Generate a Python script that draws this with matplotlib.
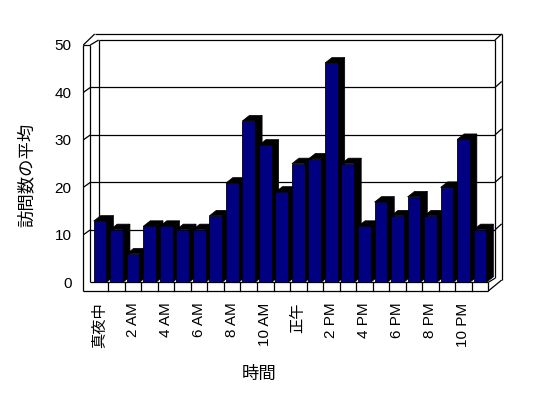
import matplotlib
matplotlib.use('Agg')
import matplotlib.pyplot as plt
from matplotlib.patches import Polygon

plt.rcParams['font.family'] = ['Liberation Sans', 'Noto Sans CJK JP']

hours = ['真夜中', '1 AM', '2 AM', '3 AM', '4 AM', '5 AM', '6 AM', '7 AM', '8 AM',
         '9 AM', '10 AM', '11 AM', '正午', '1 PM', '2 PM', '3 PM', '4 PM', '5 PM',
         '6 PM', '7 PM', '8 PM', '9 PM', '10 PM', '11 PM']
visits = [12.9, 11.1, 6.0, 11.8, 11.8, 11.1, 11.1, 14.0, 20.9, 34.0, 28.9, 19.0,
          25.0, 26.0, 46.2, 25.0, 11.8, 16.9, 14.0, 18.0, 14.0, 20.0, 30.1, 11.1]
y_ticks = [0, 10, 20, 30, 40, 50]

W, H = 548, 398
fig = plt.figure(figsize=(W / 100, H / 100), dpi=100)

# pixel geometry of the front plane
X0, CW = 91.8, 16.52     # left edge of first slot, slot width (px)
Y0, SY = 282.3, 4.746    # value 0 row, px per unit
def px2x(px):
    return (px - X0) / CW - 0.5
def py2y(py):
    return (Y0 - py) / SY

left, right, top = 90.3, 488.3, Y0 - 50 * SY
ax = fig.add_axes([left / W, 1 - Y0 / H, (right - left) / W, (Y0 - top) / H])
ax.set_xlim(px2x(left), px2x(right))
ax.set_ylim(0, 50)
ax.patch.set_visible(False)
for s in ax.spines.values():
    s.set_visible(False)

lw = 0.9
def seg(p, q, z=1):
    ax.plot([px2x(p[0]), px2x(q[0])], [py2y(p[1]), py2y(q[1])], color='black',
            lw=lw, clip_on=False, zorder=z, solid_capstyle='butt')

# box frame
frame = [((83.3, 45), (83.3, 291)), ((90.3, 45), (90.3, Y0)),
         ((83.3, 291), (488.3, 291)), ((90.3, Y0), (488.3, Y0)),
         ((488.3, Y0), (488.3, 291)), ((83.3, 45), (90.3, 45)),
         ((83.3, 45), (94.7, 34)), ((90.3, 45), (98.7, 40)),
         ((94.7, 34), (501.7, 34)), ((98.7, 40), (495, 40)),
         ((98.7, 40), (98.7, 277.5)), ((495, 40), (495, 278.3)),
         ((501.7, 34), (501.7, 280)), ((495, 40), (501.7, 34)),
         ((488.3, 291), (501.7, 280)), ((488.3, Y0), (495, 278.3))]
for p, q in frame:
    seg(p, q)

# gridlines on the walls
for v in y_ticks[1:-1]:
    yf = Y0 - v * SY
    yb = yf - 5
    seg((83.3, yf), (90.3, yb))
    seg((90.3, yb), (495, yb))
    seg((495, yb), (501.7, yb - 6))

# category boundaries on the floor front
for k in range(1, len(hours)):
    ax.plot([k - 0.5, k - 0.5], [0, py2y(291)], color='black', lw=lw,
            clip_on=False, zorder=1)

# 3D bars
bw = 0.77
ddx, ddy = 7 / CW, 5.5 / SY
for i, v in enumerate(visits):
    z = 10 + i
    xl, xr = i - bw / 2, i + bw / 2
    ax.add_patch(Polygon([(xr, 0), (xr + ddx, ddy), (xr + ddx, v + ddy), (xr, v)],
                         closed=True, facecolor='black', edgecolor='black',
                         lw=0.5, zorder=z, clip_on=False))
    ax.add_patch(Polygon([(xl, v), (xl + ddx, v + ddy), (xr + ddx, v + ddy), (xr, v)],
                         closed=True, facecolor='black', edgecolor='black',
                         lw=0.5, zorder=z, clip_on=False))
    ax.bar(i, v, width=bw, color='#000080', edgecolor='black', lw=0.6,
           zorder=z + 0.5, clip_on=False)

ax.set_yticks(y_ticks)
ax.set_yticklabels([str(t) for t in y_ticks], fontsize=11)
ax.set_xticks(range(0, len(hours), 2))
ax.set_xticklabels(hours[::2], rotation=90, fontsize=11)
ax.tick_params(axis='y', length=0, pad=13.5)
ax.tick_params(axis='x', length=0, pad=14.5)

fig.text(26.3 / W, 1 - 175 / H, '訪問数の平均', rotation=90, ha='center',
         va='center', fontsize=12.5)
fig.text(259 / W, 1 - 374 / H, '時間', ha='center', va='center', fontsize=12.5)

fig.savefig('out.png', dpi=100, facecolor='white')
